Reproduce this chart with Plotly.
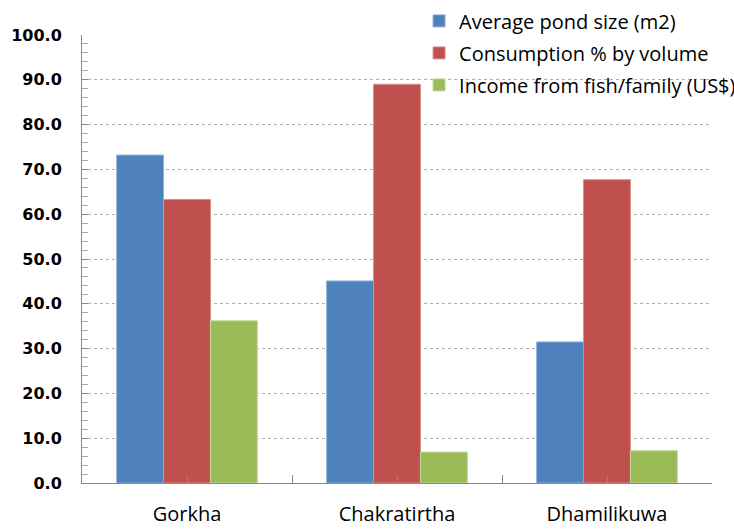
import plotly.graph_objects as go

# Survey results by site
sites = ["Gorkha", "Chakratirtha", "Dhamilikuwa"]
pond_size = [73.2, 45.1, 31.5]
consumption_pct = [63.3, 89.0, 67.7]
fish_income = [36.2, 6.9, 7.2]

series = [
    ("Average pond size (m2)", pond_size, "#4F81BD", "#8FB0DA"),
    ("Consumption % by volume", consumption_pct, "#C0504D", "#DA8E8C"),
    ("Income from fish/family (US$)", fish_income, "#9BBB59", "#C2D89B"),
]

fig = go.Figure()
for i, (name, vals, color, edge) in enumerate(series):
    fig.add_trace(go.Bar(
        x=sites, y=vals, name=name, legendgroup=f"g{i}",
        marker=dict(color=color, line=dict(color=edge, width=1)),
    ))

# invisible trace carrying the tick marks at category centres
fig.add_trace(go.Scatter(x=sites, y=[0, 0, 0], xaxis="x2", mode="markers",
                         marker=dict(opacity=0), showlegend=False, hoverinfo="skip"))

fig.update_layout(
    width=734, height=531,
    margin=dict(l=82, r=22, t=35, b=48, autoexpand=False),
    paper_bgcolor="white", plot_bgcolor="white",
    barmode="group", bargap=0.33, bargroupgap=0,
    font=dict(family="Open Sans", color="#000000"),
    legend=dict(
        x=0.535, y=1.075, xanchor="left", yanchor="top",
        bgcolor="rgba(0,0,0,0)", font=dict(size=20, family="Open Sans"),
        tracegroupgap=3, itemwidth=30,
    ),
    xaxis=dict(
        type="category", tickson="boundaries", ticks="inside", ticklen=8,
        tickcolor="#888888", showline=True, linecolor="#888888", linewidth=1,
        showgrid=False, tickfont=dict(size=20, family="Open Sans"),
        ticklabelstandoff=13, range=[-0.5, 2.5], automargin=False,
    ),
    xaxis2=dict(
        type="category", overlaying="x", matches="x", ticks="inside", ticklen=8,
        tickcolor="#888888", showticklabels=False, showgrid=False,
        showline=False, side="bottom", range=[-0.5, 2.5], automargin=False,
    ),
    yaxis=dict(
        range=[0, 100], dtick=10, tickformat=".1f", ticks="inside", ticklen=6,
        tickcolor="#888888", showline=True, linecolor="#888888", linewidth=1,
        showgrid=True, gridcolor="#B0B0B0", griddash="dot", gridwidth=1,
        zeroline=False, ticklabelstandoff=16, automargin=False,
        tickfont=dict(size=16, family="DejaVu Sans", weight="bold"),
        minor=dict(dtick=2, ticks="inside", ticklen=6, tickcolor="#AAAAAA", showgrid=False),
    ),
)

fig.write_html("out.html")
